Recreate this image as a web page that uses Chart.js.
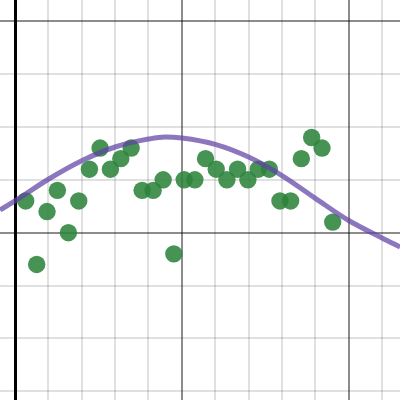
<!DOCTYPE html>
<html>
<head>
<meta charset="utf-8">
<script src="https://cdn.jsdelivr.net/npm/chart.js@4/dist/chart.umd.min.js"></script>
<style>
  html, body { margin: 0; padding: 0; background: #fff; }
  #wrap { width: 400px; height: 400px; }
</style>
</head>
<body>
<div id="wrap"><canvas id="plot" width="400" height="400"></canvas></div>
<script>
// scatter points
const pointX = [0.32, 0.65, 0.96, 1.27, 1.60, 1.91, 2.23, 2.55, 2.86, 3.17,
                3.48, 3.81, 4.14, 4.44, 4.76, 5.07, 5.39, 5.71, 6.03, 6.35,
                6.67, 6.98, 7.29, 7.62, 7.94, 8.26, 8.58, 8.89, 9.20, 9.52];
const pointY = [0.6, -0.6, 0.4, 0.8, 0, 0.6, 1.2, 1.6, 1.2, 1.4,
                1.6, 0.8, 0.8, 1.0, -0.4, 1.0, 1.0, 1.4, 1.2, 1.0,
                1.2, 1.0, 1.2, 1.2, 0.6, 0.6, 1.4, 1.8, 1.6, 0.2];

// fitted curve, sampled by eye
const curveX = [-0.45, 0, 1, 2, 3, 4, 4.5, 5, 6, 7, 8, 9, 10, 11, 11.54];
const curveY = [0.43, 0.60, 1.01, 1.36, 1.62, 1.77, 1.81, 1.79, 1.67, 1.43, 1.08, 0.65, 0.23, -0.10, -0.27];

// grid lines
const xTicks = [0, 1, 2, 3, 4, 5, 6, 7, 8, 9, 10, 11];
const yTicks = [-3, -2, -1, 0, 1, 2, 3, 4];

function gridColor(ctx, axisAt, majorEvery) {
  const v = ctx.tick.value;
  if (v === axisAt) return "#000";
  if (v % majorEvery === 0) return "rgba(0,0,0,0.45)";
  return "rgba(0,0,0,0.12)";
}
function gridWidth(ctx, axisAt) {
  return ctx.tick.value === axisAt ? 3 : 2;
}

new Chart(document.getElementById("plot").getContext("2d"), {
  type: "scatter",
  data: {
    datasets: [
      {
        type: "line",
        data: curveX.map((x, i) => ({ x: x, y: curveY[i] })),
        borderColor: "rgba(96,66,166,0.72)",
        borderWidth: 5,
        pointRadius: 0,
        fill: false,
        cubicInterpolationMode: "monotone",
      },
      {
        data: pointX.map((x, i) => ({ x: x, y: pointY[i] })),
        backgroundColor: "rgba(45,132,60,0.88)",
        borderWidth: 0,
        pointRadius: 8.7,
      },
    ],
  },
  options: {
    responsive: false,
    animation: false,
    layout: { padding: 0, autoPadding: false },
    plugins: { legend: { display: false }, tooltip: { enabled: false } },
    scales: {
      x: {
        type: "linear",
        min: -0.4495,
        max: 11.537,
        afterBuildTicks: s => { s.ticks = xTicks.map(v => ({ value: v })); },
        ticks: { display: false },
        border: { display: false },
        grid: {
          drawTicks: false,
          color: ctx => gridColor(ctx, 0, 5),
          lineWidth: ctx => gridWidth(ctx, 0),
        },
      },
      y: {
        type: "linear",
        min: -3.163,
        max: 4.399,
        afterBuildTicks: s => { s.ticks = yTicks.map(v => ({ value: v })); },
        ticks: { display: false },
        border: { display: false },
        grid: {
          drawTicks: false,
          color: ctx => gridColor(ctx, null, 4),
          lineWidth: 2,
        },
      },
    },
  },
});
</script>
</body>
</html>
